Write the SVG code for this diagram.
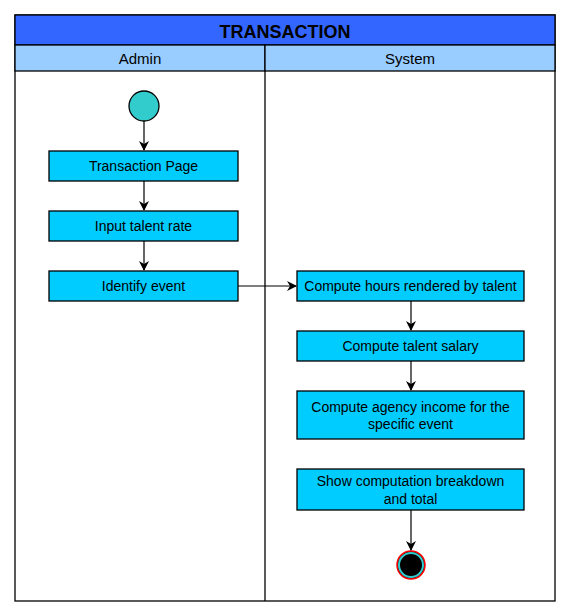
<svg xmlns="http://www.w3.org/2000/svg" width="571" height="616" viewBox="0 0 571 616">
<style>
.box{fill:#00CCFF;stroke:#000;stroke-width:1.3}
.t{font-family:"Liberation Sans",Arial,sans-serif;font-size:14px;fill:#000;text-anchor:middle}
.lane{font-family:"Liberation Sans",Arial,sans-serif;font-size:15px;fill:#000;text-anchor:middle}
.edge{stroke:#000;stroke-width:1.2;fill:none;marker-end:url(#arr)}
</style>
<defs>
<marker id="arr" viewBox="0 0 10 10" refX="9" refY="5" markerWidth="10" markerHeight="10" markerUnits="userSpaceOnUse" orient="auto">
<path d="M0,0 L10,5 L0,10 L3,5 Z" fill="#000"/>
</marker>
</defs>
<rect x="0" y="0" width="571" height="616" fill="#fff"/>
<g id="pool">
<rect x="15" y="15" width="540" height="586" fill="#fff" stroke="#000" stroke-width="1.3"/>
<rect x="15" y="15" width="540" height="30" fill="#3366FF" stroke="#000" stroke-width="1.3"/>
<text x="285" y="38" font-family="Liberation Sans,Arial,sans-serif" font-size="18" font-weight="bold" text-anchor="middle" fill="#000">TRANSACTION</text>
<rect x="15" y="45" width="250" height="26" fill="#99CCFF" stroke="#000" stroke-width="1.3"/>
<rect x="265" y="45" width="290" height="26" fill="#99CCFF" stroke="#000" stroke-width="1.3"/>
<text class="lane" x="140" y="64">Admin</text>
<text class="lane" x="410" y="64">System</text>
<line x1="265" y1="71" x2="265" y2="601" stroke="#000" stroke-width="1.3"/>
</g>
<g id="start"><circle cx="144" cy="106" r="15" fill="#33CCCC" stroke="#000" stroke-width="1.3"/></g>
<g id="n1"><rect class="box" x="49" y="151" width="189" height="30"/><text class="t" x="143.5" y="171">Transaction Page</text></g>
<g id="n2"><rect class="box" x="49" y="211" width="189" height="30"/><text class="t" x="143.5" y="231">Input talent rate</text></g>
<g id="n3"><rect class="box" x="49" y="271" width="189" height="30"/><text class="t" x="143.5" y="291">Identify event</text></g>
<g id="n4"><rect class="box" x="297" y="271" width="227" height="30"/><text class="t" x="410.5" y="291">Compute hours rendered by talent</text></g>
<g id="n5"><rect class="box" x="297" y="331" width="227" height="30"/><text class="t" x="410.5" y="351">Compute talent salary</text></g>
<g id="n6"><rect class="box" x="297" y="391" width="227" height="48"/><text class="t" x="410.5" y="412">Compute agency income for the</text><text class="t" x="410.5" y="429">specific event</text></g>
<g id="n7"><rect class="box" x="297" y="469" width="227" height="41"/><text class="t" x="410.5" y="486">Show computation breakdown</text><text class="t" x="410.5" y="504">and total</text></g>
<g id="end"><circle cx="411" cy="565" r="14" fill="#000" stroke="#FF0000" stroke-width="1.5"/><circle cx="411" cy="565" r="12" fill="none" stroke="#33CCCC" stroke-width="2"/></g>
<g id="edges">
<path class="edge" d="M144,121 V150"/>
<path class="edge" d="M144,181 V210"/>
<path class="edge" d="M144,241 V270"/>
<path class="edge" d="M238,286 H296"/>
<path class="edge" d="M411,301 V330"/>
<path class="edge" d="M411,361 V390"/>
<path class="edge" d="M411,510 V550"/>
</g>
</svg>
